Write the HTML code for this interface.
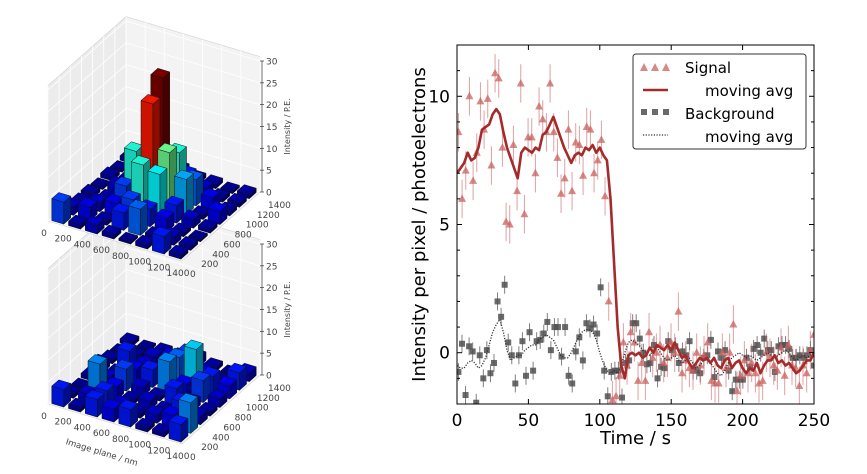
<!DOCTYPE html>
<html><head><meta charset="utf-8"><style>
html,body{margin:0;padding:0;background:#fff;}
svg{display:block;font-family:"DejaVu Sans","Liberation Sans",sans-serif;}
</style></head><body>
<svg id="root" width="867" height="474" viewBox="0 0 867 474" xmlns="http://www.w3.org/2000/svg">
<g id="bars3d"></g>
<g id="chart"></g>
</svg>
<script>
// ---------- 3D bar data (8x8 grid, rows = y index front->back, cols = x index) ----------
const gridTicks = [0,200,400,600,800,1000,1200,1400];
const zTicks = [0,5,10,15,20,25,30];
const topHeights = [
 [5,1,2,1,0.5,1,4,1],
 [2,3,1,4,6,1,2,1],
 [1,2,3,5,4,3,1,0.5],
 [1,1,5,11,10,4,2,1],
 [0.5,2,11,23,13,8,1,3],
 [1,1,3,27,11,6,3,1],
 [0.5,1,2,3,4,2,1,1],
 [1,0.5,1,2,1,1,0.5,1]
];
const bottomHeights = [
 [4,1,4,3,4,1,1,4],
 [1,2,4,2,1,2,3,7],
 [0.5,7,3,1,2,1,4,2],
 [1,2,5,2,1,4,2,1],
 [2,1,3,4,7,3,5,2],
 [1,4,2,1,6,9,4,3],
 [0.5,1,2,3,5,2,1,4],
 [1,0.5,1,1,2,1,0.5,2]
];
const colorMax = 27;

// ---------- Time series data ----------
const signalVals = [8.6,6.0,7.1,10.0,6.7,7.8,9.8,8.7,9.9,7.3,10.9,10.7,8.0,5.1,5.0,8.1,6.3,10.5,5.4,8.4,8.4,7.0,9.6,9.1,8.6,10.5,8.6,7.6,6.2,6.8,8.7,6.3,8.2,8.1,6.9,8.8,8.7,7.0,7.5,8.3,6.1,2.0,-1.85,-1.7,-0.9,0.4,-0.5,0.8,0.4,-1.1,-0.4,-1.1,0.8,-0.2,0.0,0.3,-0.4,-0.2,0.4,0.0,1.6,-0.8,-0.3,-0.6,-0.7,0.0,-0.5,-0.1,0.4,-1.1,-1.2,-1.2,0.0,-0.6,0.0,1.1,-1.5,-0.9,-0.3,-0.8,-0.4,-0.8,-1.2,-1.1,0.0,-0.2,-0.5,-0.7,0.2,-0.9,0.3,-0.5,-0.6,-1.3,-0.5,-0.8,0.1,0.7];
const signalAvg = [7.0,7.2,7.4,7.8,7.5,7.6,8.0,8.7,8.8,8.9,9.3,9.5,9.3,8.6,8.0,7.6,7.2,6.8,7.8,8.0,7.9,7.8,8.0,7.9,8.5,8.6,8.9,9.2,8.8,8.4,8.0,7.7,7.4,7.7,7.8,7.7,8.0,7.9,8.1,7.8,8.0,7.7,7.5,6.0,3.5,1.0,-0.5,-1.0,-0.1,0.0,-0.1,0.0,-0.2,-0.1,0.2,0.0,0.3,0.2,0.1,0.3,0.1,0.4,0.1,-0.2,-0.1,-0.4,-0.6,-0.4,-0.2,-0.3,-0.2,-0.4,-0.2,-0.5,-0.6,-0.3,-0.2,-0.6,-0.4,-0.3,-0.6,-0.8,-0.6,-0.7,-0.4,-0.8,-0.5,-0.3,-0.3,-0.1,-0.4,-0.3,-0.5,-0.4,-0.6,-0.8,-0.7,-0.5,-0.3,-0.3,0.0];
const bgVals = [-0.75,0.35,-1.65,0.25,0.05,-1.95,-0.1,-1.0,0.1,-0.8,-0.4,2.0,1.4,2.65,0.4,-0.1,-1.2,-0.1,0.45,-0.9,0.8,-0.7,0.45,0.5,0.75,1.2,0.1,1.0,1.0,-0.15,1.0,-0.9,-1.2,0.05,0.6,-0.3,1.15,0.95,1.1,0.75,2.55,-0.7,-1.7,-0.75,-0.7,-0.7,-1.75,-0.4,-0.3,1.15,1.15,0.55,0.0,-0.45,-0.4,0.3,-1.0,-0.55,-0.6,0.45,0.1,0.25,-0.4,0.05,-0.1,0.45,-0.7,-0.7,-0.8,-0.2,-0.1,0.5,-0.95,0.05,-0.2,0.1,-0.7,-1.5,-1.05,-1.05,-1.05,-0.2,-0.55,0.15,0.3,0.0,0.55,0.1,0.1,-0.75,0.25,0.3,0.3,0.15,-0.2,-0.2,-0.1,-0.2,-0.1,0.1,-0.5];
const bgAvg = [-0.5,-0.6,-0.6,-0.4,-0.3,-0.4,-0.6,-0.5,-0.2,0.3,0.8,1.1,1.3,0.8,0.1,-0.3,-0.2,-0.1,-0.1,0.1,0.2,0.3,0.3,0.5,0.6,0.7,0.6,0.5,0.2,-0.1,-0.2,-0.2,0.0,0.3,0.6,0.8,0.9,0.9,0.8,0.5,0.0,-0.4,-0.7,-0.8,-0.7,-0.8,-0.5,0.0,0.4,0.5,0.4,0.3,0.1,0.0,-0.1,0.1,0.2,0.0,-0.2,-0.3,-0.2,-0.1,-0.3,-0.4,-0.3,-0.2,-0.4,-0.6,-0.5,-0.3,-0.2,-0.4,-0.6,-0.8,-0.9,-0.7,-0.4,-0.2,-0.1,0.0,-0.1,-0.2,-0.1,-0.2,-0.3,-0.2,-0.1,0.0,-0.1,-0.2,-0.1,0.0,0.1,0.0,-0.2,-0.3,-0.2,-0.1,-0.2,-0.1,0.0];
const xTickVals = [0,50,100,150,200,250];
const yTickVals = [0,5,10];

const NS="http://www.w3.org/2000/svg";
function mk(tag,attrs,parent){const e=document.createElementNS(NS,tag);for(const k in attrs)e.setAttribute(k,attrs[k]);parent.appendChild(e);return e;}

// ---------- 3D bar charts ----------
const g3 = document.getElementById('bars3d');
function jet(v){const c=x=>Math.max(0,Math.min(1,x));return [c(1.5-Math.abs(4*v-3)),c(1.5-Math.abs(4*v-2)),c(1.5-Math.abs(4*v-1))];}
function rgb(c,f){return 'rgb('+c.map(x=>Math.round(Math.min(1,x*f)*255)).join(',')+')';}
function draw3d(heights, dy, withXLabel, name){
  const grp = mk('g',{},g3);
  
  
  const A=[48,221+dy], B=[182,261+dy], C=[260,192+dy];
  const D=[A[0]+C[0]-B[0], A[1]+C[1]-B[1]];
  const zs=131/30;
  const P=(x,y,z)=>[A[0]+x/1400*(B[0]-A[0])+y/1400*(D[0]-A[0]), A[1]+x/1400*(B[1]-A[1])+y/1400*(D[1]-A[1])-z*zs];
  const poly=(pts,fill,stroke,sw)=>mk('polygon',{points:pts.map(p=>p[0].toFixed(1)+','+p[1].toFixed(1)).join(' '),fill:fill,stroke:stroke||'none','stroke-width':sw||0.6},grp);
  const H=31;
  poly([P(0,0,0),P(0,1400,0),P(0,1400,H),P(0,0,H)],'#ececec','#d0d0d0');
  poly([P(0,1400,0),P(1400,1400,0),P(1400,1400,H),P(0,1400,H)],'#f3f3f3','#d0d0d0');
  poly([P(0,0,0),P(1400,0,0),P(1400,1400,0),P(0,1400,0)],'#f6f6f6','#d0d0d0');
  for(const t of gridTicks){
    let a=P(t,1400,0),b=P(t,1400,H); mk('line',{x1:a[0],y1:a[1],x2:b[0],y2:b[1],stroke:'#fff','stroke-width':0.8},grp);
    a=P(0,t,0);b=P(0,t,H); mk('line',{x1:a[0],y1:a[1],x2:b[0],y2:b[1],stroke:'#fff','stroke-width':0.8},grp);
  }
  for(const z of zTicks){
    let a=P(0,0,z),b=P(0,1400,z),c=P(1400,1400,z);
    mk('polyline',{points:`${a} ${b} ${c}`,fill:'none',stroke:'#fff','stroke-width':0.8},grp);
  }
  const cells=[];
  for(let r=0;r<8;r++)for(let c=0;c<8;c++)cells.push([r,c]);
  cells.sort((p,q)=>(q[0]-q[1])-(p[0]-p[1]));
  for(const [r,c] of cells){
    const h=heights[r][c]; const col=jet(Math.min(1,h/colorMax));
    const x0=c*175+25,x1=x0+125,y0=r*175+25,y1=y0+125;
    const bar=mk('g',{},grp);
    
    
    const pb=(pts,f)=>mk('polygon',{points:pts.map(p=>p[0].toFixed(1)+','+p[1].toFixed(1)).join(' '),fill:f,stroke:'#111','stroke-width':0.5},bar);
    pb([P(x0,y0,0),P(x1,y0,0),P(x1,y0,h),P(x0,y0,h)],rgb(col,0.8));
    pb([P(x1,y0,0),P(x1,y1,0),P(x1,y1,h),P(x1,y0,h)],rgb(col,0.55));
    pb([P(x0,y0,h),P(x1,y0,h),P(x1,y1,h),P(x0,y1,h)],rgb(col,0.95));
  }
  const za=P(1400,1400,0), zb=P(1400,1400,30);
  mk('line',{x1:za[0]+2,y1:za[1],x2:zb[0]+2,y2:zb[1],stroke:'#333','stroke-width':0.7},grp);
  for(const z of zTicks){
    const p=P(1400,1400,z);
    mk('line',{x1:p[0],y1:p[1],x2:p[0]+4,y2:p[1],stroke:'#333','stroke-width':0.7},grp);
    const t=mk('text',{x:p[0]+6,y:p[1]+3.5,'font-size':9,fill:'#444'},grp); t.textContent=z;
     
  }
  const zl=mk('text',{x:0,y:0,'font-size':8,fill:'#444','text-anchor':'middle',transform:`translate(${za[0]+30},${(za[1]+zb[1])/2}) rotate(-90)`},grp);
  zl.textContent='Intensity / P.E.';
   
  for(const t of gridTicks){
    const p=P(t,0,0);
    const e=mk('text',{x:p[0]-4,y:p[1]+15,'font-size':9,fill:'#444','text-anchor':'middle'},grp); e.textContent=t;
     
    const q=P(1400,t,0);
    const f=mk('text',{x:q[0]+8,y:q[1]+16,'font-size':9,fill:'#444','text-anchor':'start'},grp); f.textContent=t;
     
  }
  if(withXLabel){
    const m=P(700,0,0);
    const xl=mk('text',{x:0,y:0,'font-size':8.5,fill:'#444','text-anchor':'middle',transform:`translate(${m[0]-14},${m[1]+31}) rotate(17)`},grp);
    xl.textContent='Image plane / nm';
     
  }
}
draw3d(bottomHeights,183,true,'3d-bars-background');
draw3d(topHeights,0,false,'3d-bars-signal');

// ---------- 2D chart ----------
const gc=document.getElementById('chart');
const L=457,R=814,T=45,Bt=404, xmin=0,xmax=250,ymin=-2,ymax=12;
const X=t=>L+(t-xmin)/(xmax-xmin)*(R-L);
const Y=v=>Bt-(v-ymin)/(ymax-ymin)*(Bt-T);
const tPts=(i,n)=>1+i*(249/(n-1));
const tAvg=(i,n)=>i*(250/(n-1));
const clip=mk('clipPath',{id:'cp'},gc); mk('rect',{x:L,y:T,width:R-L,height:Bt-T},clip);
const plot=mk('g',{'clip-path':'url(#cp)'},gc);


bgVals.forEach((v,i)=>{
  const x=X(tPts(i,bgVals.length)),y=Y(v);
  const e=mk('line',{x1:x,y1:Y(v+0.35),x2:x,y2:Y(v-0.35),stroke:'#555','stroke-width':1,opacity:0.75},plot);
  
  
  const s=mk('rect',{x:x-3,y:y-3,width:6,height:6,fill:'#505050',opacity:0.85},plot);
  
  
});
signalVals.forEach((v,i)=>{
  const x=X(tPts(i,signalVals.length)),y=Y(v);
  const e=mk('line',{x1:x,y1:Y(v+0.75),x2:x,y2:Y(v-0.75),stroke:'#c86464','stroke-width':1,opacity:0.6},plot);
  
  
  const p=mk('polygon',{points:`${x},${y-4.5} ${x-4},${y+3} ${x+4},${y+3}`,fill:'#c8625f',opacity:0.75},plot);
  
  
});
const bgLine=mk('polyline',{points:bgAvg.map((v,i)=>X(tAvg(i,bgAvg.length))+','+Y(v)).join(' '),fill:'none',stroke:'#333','stroke-width':1.3,'stroke-dasharray':'1.2,1.5'},plot);


const sLine=mk('polyline',{points:signalAvg.map((v,i)=>X(tAvg(i,signalAvg.length))+','+Y(v)).join(' '),fill:'none',stroke:'#a52a2a','stroke-width':2.6,'stroke-linejoin':'round'},plot);


const fr=mk('rect',{x:L,y:T,width:R-L,height:Bt-T,fill:'none',stroke:'#000','stroke-width':1},gc);
 
xTickVals.forEach(t=>{
  const x=X(t);
  mk('line',{x1:x,y1:Bt,x2:x,y2:Bt-5,stroke:'#000'},gc);
  mk('line',{x1:x,y1:T,x2:x,y2:T+5,stroke:'#000'},gc);
  const e=mk('text',{x:x,y:Bt+22,'font-size':17,'text-anchor':'middle',fill:'#000'},gc); e.textContent=t;
   
});
for(let v=-2;v<=12;v++){
  const y=Y(v), major=yTickVals.includes(v);
  mk('line',{x1:L,y1:y,x2:L+(major?5:3),y2:y,stroke:'#000'},gc);
  mk('line',{x1:R,y1:y,x2:R-(major?5:3),y2:y,stroke:'#000'},gc);
}
yTickVals.forEach(v=>{
  const e=mk('text',{x:L-7,y:Y(v)+6,'font-size':17,'text-anchor':'end',fill:'#000'},gc); e.textContent=v;
   
});
const xt=mk('text',{x:(L+R)/2,y:444,'font-size':18,'text-anchor':'middle',fill:'#000'},gc); xt.textContent='Time / s';
 
const yt=mk('text',{x:0,y:0,'font-size':18,'text-anchor':'middle',fill:'#000',transform:`translate(425,${(T+Bt)/2}) rotate(-90)`},gc); yt.textContent='Intensity per pixel / photoelectrons';
 
const lg=mk('g',{},gc);


mk('rect',{x:633,y:54,width:173,height:95,rx:3,fill:'#fff',stroke:'#333','stroke-width':1},lg);
[644,655,666].forEach(x=>mk('polygon',{points:`${x},${63} ${x-4},${71} ${x+4},${71}`,fill:'#c8625f',opacity:0.75},lg));
mk('line',{x1:643,y1:90,x2:668,y2:90,stroke:'#a52a2a','stroke-width':2.6},lg);
[644,655,666].forEach(x=>mk('rect',{x:x-3,y:109,width:6,height:6,fill:'#505050',opacity:0.85},lg));
mk('line',{x1:643,y1:135,x2:668,y2:135,stroke:'#333','stroke-width':1.3,'stroke-dasharray':'1.2,1.5'},lg);
[['Signal',685,73,'legend-entry-signal'],['moving avg',705,96,'legend-entry-signal-avg'],['Background',685,119,'legend-entry-background'],['moving avg',705,142,'legend-entry-background-avg']].forEach(([s,x,y,n])=>{
  const t=mk('text',{x:x,y:y,'font-size':15,fill:'#000'},lg); t.textContent=s;
   
});
</script>
</body></html>
